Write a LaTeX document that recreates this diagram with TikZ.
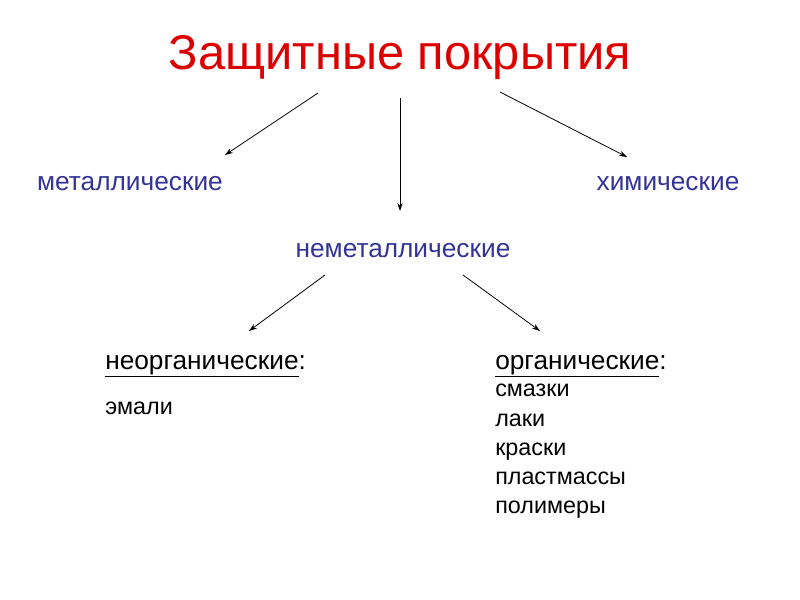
\documentclass[tikz,border=0pt]{standalone}
\usepackage{fontspec}
\setmainfont{Liberation Sans}
\usetikzlibrary{arrows.meta}
\definecolor{tblue}{RGB}{51,51,153}
\definecolor{tred}{RGB}{220,0,0}
\begin{document}
\begin{tikzpicture}[x=0.75pt,y=-0.75pt,
  cat/.style={text=tblue,font=\fontsize{19.7}{22}\selectfont,inner sep=0pt},
  sub/.style={text=black,font=\fontsize{19.7}{22}\selectfont,inner sep=0pt,anchor=base west},
  item/.style={text=black,font=\fontsize{17.5}{20}\selectfont,inner sep=0pt,anchor=base west},
  arr/.style={-{Stealth[length=6pt,width=4pt]},line width=0.6pt}]
\fill[white] (0,0) rectangle (800,600);
\useasboundingbox (0,0) rectangle (800,600);
\node[text=tred,font=\fontsize{36.6}{40}\selectfont,inner sep=0pt] (title) at (400,58) {Защитные покрытия};
\node[cat] (met) at (130,184) {металлические};
\node[cat] (him) at (668,184) {химические};
\node[cat] (nem) at (403,251) {неметаллические};
\node[sub] (neo) at (105,369) {\underline{неорганические}:};
\node[sub] (org) at (495,369) {\underline{органические}:};
\node[item] (e1) at (105,414) {эмали};
\node[item] (o1) at (495,396) {смазки};
\node[item] (o2) at (495,426) {лаки};
\node[item] (o3) at (495,455) {краски};
\node[item] (o4) at (495,484) {пластмассы};
\node[item] (o5) at (495,513) {полимеры};
\coordinate (a1s) at (318,93); \coordinate (a1e) at (225,155);
\coordinate (a2s) at (400,98); \coordinate (a2e) at (400,211);
\coordinate (a3s) at (500,92); \coordinate (a3e) at (627,157);
\coordinate (a4s) at (325,275); \coordinate (a4e) at (249,331);
\coordinate (a5s) at (463,275); \coordinate (a5e) at (540,331);
\draw[arr] (a1s) -- (a1e);
\draw[arr] (a2s) -- (a2e);
\draw[arr] (a3s) -- (a3e);
\draw[arr] (a4s) -- (a4e);
\draw[arr] (a5s) -- (a5e);
\end{tikzpicture}
\end{document}
